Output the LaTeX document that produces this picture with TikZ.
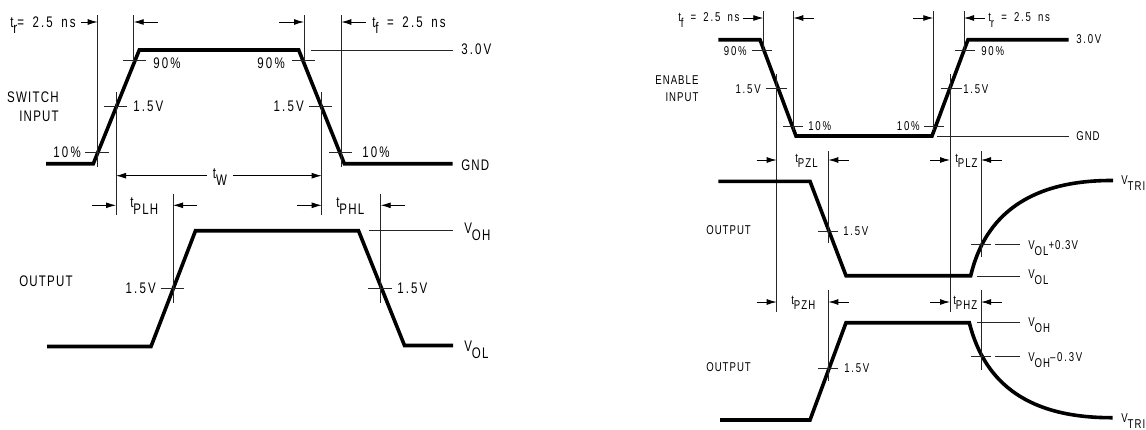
\documentclass[tikz,border=0pt]{standalone}
\usepackage{fontspec}
\setmainfont{Liberation Sans}[FakeStretch=0.75,LetterSpace=14,WordSpace=1.6]
\newfontfamily\capsfont{Liberation Sans}[FakeStretch=0.75,LetterSpace=8]
\usetikzlibrary{arrows.meta}
\newcommand{\subs}[1]{\lower0.42em\hbox{\capsfont #1}}
\tikzset{
  signal/.style={line width=2.7pt,line join=miter},
  guide/.style={line width=0.6pt,black!85},
  timing/.style={line width=0.6pt,-{Latex[length=7.5pt,width=4.4pt]}},
  bigtext/.style={inner sep=0pt,font=\fontsize{11.5}{13}\selectfont},
  smalltext/.style={inner sep=0pt,font=\fontsize{9.6}{11}\selectfont}
}
\begin{document}
\begin{tikzpicture}[x=0.75pt,y=-0.75pt]
  \useasboundingbox (0,0) rectangle (1146,429);

  %% switch input
  \draw[signal] (46,163.7) -- (93.3,163.7) -- (139.3,50) -- (298.7,50) -- (344.3,163.7) -- (452.7,163.7);
  \draw[guide] (97.7,15) -- (97.7,167);
  \draw[guide] (133.7,15) -- (133.7,62);
  \draw[guide] (304,15) -- (304,62);
  \draw[guide] (341.3,15) -- (341.3,167);
  \draw[guide] (116,92) -- (116,215);
  \draw[guide] (321.7,92) -- (321.7,215);
  \draw[guide] (122.7,60.7) -- (146,60.7);
  \draw[guide] (291.7,60.7) -- (315.3,60.7);
  \draw[guide] (103.7,106.7) -- (127,106.7);
  \draw[guide] (309,106.7) -- (332.3,106.7);
  \draw[guide] (85.3,152.7) -- (108.7,152.7);
  \draw[guide] (329,152.7) -- (352.3,152.7);
  \draw[guide] (311,50) -- (453,50);

  \draw[timing] (81,22) -- (97.7,22);
  \draw[timing] (157.7,22) -- (133.7,22);
  \draw[timing] (279,22) -- (304,22);
  \draw[timing] (365.7,22) -- (341.3,22);
  \draw[timing] (206.7,175.7) -- (116,175.7);
  \draw[timing] (233.3,175.7) -- (321.7,175.7);
  \draw[timing] (92,205.3) -- (116,205.3);
  \draw[timing] (197.3,205.3) -- (173,205.3);
  \draw[timing] (297.3,205.3) -- (321.7,205.3);
  \draw[timing] (405.3,205.3) -- (380.7,205.3);

  \node[bigtext,anchor=west] (trleft) at (10,25) {t\subs{r}= 2.5 ns};
  \node[bigtext,anchor=west] (tfleft) at (372,25) {t\subs{f} = 2.5 ns};
  \node[bigtext,anchor=west] (highleft) at (461,49) {3.0V};
  \node[bigtext,anchor=west] (gndleft) at (461,165) {\capsfont GND};
  \node[bigtext,anchor=west] (ninetyA) at (153,63) {90\%};
  \node[bigtext,anchor=east] (ninetyB) at (285,63) {90\%};
  \node[bigtext,anchor=east] (switchtext) at (59,97) {\capsfont SWITCH};
  \node[bigtext,anchor=east] (inputtext) at (59,116) {\capsfont INPUT};
  \node[bigtext,anchor=west] (midA) at (133,106.7) {1.5V};
  \node[bigtext,anchor=east] (midB) at (304,106.7) {1.5V};
  \node[bigtext,anchor=east] (tenA) at (81,152) {10\%};
  \node[bigtext,anchor=west] (tenB) at (362,152) {10\%};
  \node[bigtext] (tw) at (220,177) {t\subs{W}};
  \node[bigtext,anchor=west] (tplh) at (130,206) {t\subs{PLH}};
  \node[bigtext,anchor=west] (tphl) at (336,206) {t\subs{PHL}};

  %% output
  \draw[signal] (47,346.5) -- (151,346.5) -- (195.5,230.7) -- (358.5,230.7) -- (404.5,345.5) -- (453,345.5);
  \draw[guide] (173,194) -- (173,303);
  \draw[guide] (380.7,194) -- (380.7,303);
  \draw[guide] (369.3,230.7) -- (453,230.7);
  \draw[guide] (160.7,288) -- (184,288);
  \draw[guide] (368.3,288) -- (391.7,288);

  \node[bigtext,anchor=west] (outputA) at (19,281) {\capsfont OUTPUT};
  \node[bigtext,anchor=east] (midC) at (156,288) {1.5V};
  \node[bigtext,anchor=west] (midD) at (397,288) {1.5V};
  \node[bigtext,anchor=west] (vohleft) at (464,232) {V\subs{OH}};
  \node[bigtext,anchor=west] (volleft) at (464,350) {V\subs{OL}};

  %% enable input
  \draw[signal] (718.3,39.7) -- (760,39.7) -- (796,136) -- (932,136) -- (968,39.7) -- (1068.7,39.7);
  \draw[guide] (763.3,11) -- (763.3,50);
  \draw[guide] (793.3,11) -- (793.3,130);
  \draw[guide] (933.3,11) -- (933.3,130);
  \draw[guide] (964,11) -- (964,50);
  \draw[guide] (776.7,74) -- (776.7,311.7);
  \draw[guide] (950,74) -- (950,311.7);
  \draw[guide] (752.3,50) -- (771.7,50);
  \draw[guide] (955.3,50) -- (975,50);
  \draw[guide] (766,88.3) -- (786.7,88.3);
  \draw[guide] (941,88.3) -- (961.7,88.3);
  \draw[guide] (783.3,126.7) -- (802.7,126.7);
  \draw[guide] (924,126.7) -- (943.7,126.7);
  \draw[guide] (937.3,136) -- (1069.3,136);

  \draw[timing] (743.3,18) -- (763.3,18);
  \draw[timing] (814,18) -- (793.3,18);
  \draw[timing] (913.3,18) -- (933.3,18);
  \draw[timing] (985,18) -- (964,18);
  \draw[timing] (756.7,160) -- (776.7,160);
  \draw[timing] (849,160) -- (828.3,160);
  \draw[timing] (930,160) -- (950,160);
  \draw[timing] (1001.7,160) -- (981,160);
  \draw[timing] (756.7,302) -- (776.7,302);
  \draw[timing] (849,302) -- (828.3,302);
  \draw[timing] (930,302) -- (950,302);
  \draw[timing] (1001.7,302) -- (981,302);

  \node[smalltext,anchor=west] (tfright) at (678,20) {t\subs{f} = 2.5 ns};
  \node[smalltext,anchor=west] (trright) at (988,20) {t\subs{r} = 2.5 ns};
  \node[smalltext,anchor=west] (highright) at (1076,39) {3.0V};
  \node[smalltext,anchor=west] (gndright) at (1076,136) {\capsfont GND};
  \node[smalltext,anchor=east] (ninetyC) at (747,51) {90\%};
  \node[smalltext,anchor=west] (ninetyD) at (981,51) {90\%};
  \node[smalltext,anchor=east] (enabletext) at (698.7,80) {\capsfont ENABLE};
  \node[smalltext,anchor=east] (inputright) at (698.7,97) {\capsfont INPUT};
  \node[smalltext,anchor=east] (midE) at (761,89) {1.5V};
  \node[smalltext,anchor=west] (midF) at (963,89) {1.5V};
  \node[smalltext,anchor=west] (tenC) at (808,126) {10\%};
  \node[smalltext,anchor=east] (tenD) at (920,126) {10\%};
  \node[smalltext,anchor=west] (tpzl) at (795,161) {t\subs{PZL}};
  \node[smalltext,anchor=west] (tplz) at (955,161) {t\subs{PLZ}};
  \node[smalltext,anchor=west] (tpzh) at (791,303) {t\subs{PZH}};
  \node[smalltext,anchor=west] (tphz) at (953,303) {t\subs{PHZ}};

  %% output, low going
  \draw[signal] (718.3,181.3) -- (810,181.3) -- (846,275.7) -- (970.7,275.7) .. controls (985,215) and (1030,180) .. (1113,180.5);
  \draw[guide] (828.3,151) -- (828.3,243);
  \draw[guide] (981,151) -- (981,256.7);
  \draw[guide] (818.3,231) -- (838.3,231);
  \draw[guide] (971,244.7) -- (990.7,244.7);
  \draw[guide] (995,244.7) -- (1020,244.7);
  \draw[guide] (976.7,276) -- (1020,276);

  \node[smalltext,anchor=west] (vtriA) at (1121,183) {V\subs{TRI}};
  \node[smalltext,anchor=west] (outputB) at (706,230) {\capsfont OUTPUT};
  \node[smalltext,anchor=west] (midG) at (843,231) {1.5V};
  \node[smalltext,anchor=west] (volplus) at (1028,248) {\capsfont V\subs{OL}+0.3V};
  \node[smalltext,anchor=west] (volright) at (1028,277) {V\subs{OL}};

  %% output, high going
  \draw[signal] (720,420) -- (810,420) -- (846,322.7) -- (969.3,322.7) .. controls (985,385) and (1030,418) .. (1112.7,417.7);
  \draw[guide] (828.3,290) -- (828.3,380.7);
  \draw[guide] (981.3,290) -- (981.3,370);
  \draw[guide] (818.3,368.7) -- (838.3,368.7);
  \draw[guide] (976.7,322.7) -- (1020,322.7);
  \draw[guide] (971,356.7) -- (990.7,356.7);
  \draw[guide] (995,356.7) -- (1020,356.7);

  \node[smalltext,anchor=west] (vtriB) at (1121,421) {V\subs{TRI}};
  \node[smalltext,anchor=west] (outputC) at (706,367) {\capsfont OUTPUT};
  \node[smalltext,anchor=west] (midH) at (844,368) {1.5V};
  \node[smalltext,anchor=west] (vohright) at (1028,325) {V\subs{OH}};
  \node[smalltext,anchor=west] (vohminus) at (1028,360) {V\subs{OH}--0.3V};

\end{tikzpicture}
\end{document}
